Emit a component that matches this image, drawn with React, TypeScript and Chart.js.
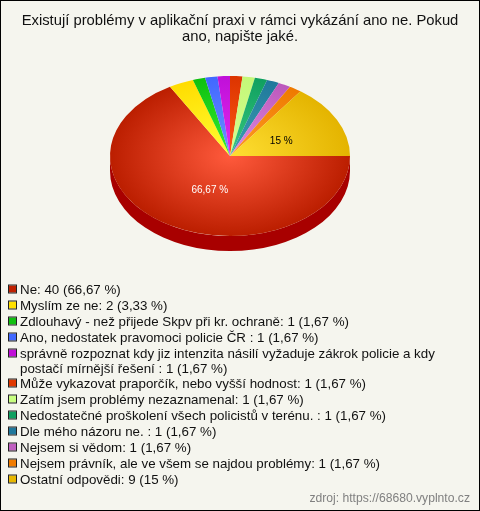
import React, { useEffect, useRef } from "react";
import { Chart, registerables } from "chart.js";

Chart.register(...registerables);

const titleLines = [
  "Existují problémy v aplikační praxi v rámci vykázání ano ne. Pokud",
  "ano, napište jaké.",
];
const categories = [
  "Ne",
  "Myslím ze ne",
  "Zdlouhavý - než přijede Skpv při kr. ochraně",
  "Ano, nedostatek pravomoci policie ČR ",
  "správně rozpoznat kdy jiz intenzita násilí vyžaduje zákrok policie a kdy postačí mírnější řešení ",
  "Může vykazovat praporčík, nebo vyšší hodnost",
  "Zatím jsem problémy nezaznamenal",
  "Nedostatečné proškolení všech policistů v terénu. ",
  "Dle mého názoru ne. ",
  "Nejsem si vědom",
  "Nejsem právník, ale ve všem se najdou problémy",
  "Ostatní odpovědi",
];
const counts = [40, 2, 1, 1, 1, 1, 1, 1, 1, 1, 1, 9];
const shares = ["66,67", "3,33", "1,67", "1,67", "1,67", "1,67", "1,67", "1,67", "1,67", "1,67", "1,67", "15"];
const innerColors = ["#ff5a3c", "#ffff33", "#33ee33", "#6f90ff", "#e02af0", "#ff5a14", "#d4ff90", "#38c880", "#3aa0b0", "#e08ce0", "#ff9c24", "#ffdf33"];
const outerColors = ["#bb1e00", "#ffdc00", "#0fc00f", "#4068ff", "#c010d8", "#dc3400", "#c4f878", "#10a060", "#20789c", "#bc58bc", "#ee7a00", "#e4b400"];
const boxColors = ["#c02000", "#ffe000", "#10c010", "#4068ff", "#c010d8", "#e03800", "#c8ff80", "#10a060", "#20789c", "#c060c0", "#f07c00", "#e8b800"];
const sideColors = ["#a80000", "#c0a000", "#008800", "#2040c0", "#8000a0", "#a02000", "#90c050", "#007040", "#105070", "#884088", "#b05000", "#b08800"];
const labelledValues = [40, 9];
const source = "zdroj: https://68680.vyplnto.cz";

const PIE_CX = 230;
const PIE_CY = 156;
const SQUASH = 2 / 3;
const DEPTH = 15;
const BG = "#f5f5ee";

const piePlugin = {
  id: "pie3d",
  beforeDraw(chart: any) {
    const { ctx, width, height } = chart;
    ctx.save();
    ctx.fillStyle = BG;
    ctx.fillRect(0, 0, width, height);
    ctx.strokeStyle = "#000";
    ctx.lineWidth = 1;
    ctx.strokeRect(0.5, 0.5, width - 1, height - 1);
    ctx.restore();
  },
  beforeDatasetsDraw(chart: any) {
    const { ctx } = chart;
    const arcs = chart.getDatasetMeta(0).data;
    ctx.save();
    arcs.forEach((arc: any, i: number) => {
      const a = Math.max(arc.startAngle, 0);
      const b = Math.min(arc.endAngle, Math.PI);
      if (b <= a) return;
      const rx = arc.outerRadius;
      const ry = rx * SQUASH;
      ctx.beginPath();
      ctx.ellipse(PIE_CX, PIE_CY + DEPTH, rx, ry, 0, a, b);
      ctx.ellipse(PIE_CX, PIE_CY, rx, ry, 0, b, a, true);
      ctx.closePath();
      ctx.fillStyle = sideColors[i];
      ctx.fill();
    });
    ctx.restore();
    const first = arcs[0];
    ctx.save();
    ctx.translate(PIE_CX, PIE_CY);
    ctx.scale(1, SQUASH);
    ctx.translate(-first.x, -first.y);
  },
  afterDatasetsDraw(chart: any) {
    const { ctx } = chart;
    ctx.restore();
    const arcs = chart.getDatasetMeta(0).data;
    ctx.save();
    ctx.font = "10px 'Liberation Sans'";
    ctx.textAlign = "center";
    ctx.textBaseline = "middle";
    arcs.forEach((arc: any, i: number) => {
      if (!labelledValues.includes(counts[i])) return;
      const mid = (arc.startAngle + arc.endAngle) / 2;
      const r = arc.outerRadius * 0.47;
      const nudge = i === 0 ? 8 : 1;
      ctx.fillStyle = i === 0 ? "#ffffff" : "#000000";
      ctx.fillText(
        `${shares[i]} %`,
        PIE_CX + Math.cos(mid) * r + nudge,
        PIE_CY + Math.sin(mid) * r * SQUASH + 2
      );
    });
    ctx.restore();
  },
  afterDraw(chart: any) {
    const { ctx, width, height } = chart;
    ctx.save();
    ctx.font = "13.33px 'Liberation Sans'";
    ctx.textBaseline = "middle";
    ctx.textAlign = "left";
    let y = 289;
    categories.forEach((name, i) => {
      const full = `${name}: ${counts[i]} (${shares[i]} %)`;
      const lines: string[] = [];
      let cur = "";
      full.split(" ").forEach((w) => {
        const next = cur ? `${cur} ${w}` : w;
        if (ctx.measureText(next).width > 440 && cur) {
          lines.push(cur);
          cur = w;
        } else cur = next;
      });
      lines.push(cur);
      ctx.fillStyle = boxColors[i];
      ctx.fillRect(9, y - 3.5, 7, 7);
      ctx.strokeStyle = "#222";
      ctx.lineWidth = 1;
      ctx.strokeRect(8.5, y - 4, 8, 8);
      ctx.fillStyle = "#111";
      lines.forEach((l, k) => ctx.fillText(l, 20, y + 1 + k * 15));
      y += 16 + (lines.length - 1) * 14;
    });
    ctx.font = "12.15px 'Liberation Sans'";
    ctx.textAlign = "right";
    ctx.fillStyle = "#808080";
    ctx.fillText(source, width - 10, height - 12);
    ctx.restore();
  },
};

export default function App() {
  const ref = useRef<HTMLCanvasElement>(null);
  useEffect(() => {
    document.body.style.margin = "0";
    const chart = new Chart(ref.current as HTMLCanvasElement, {
      type: "pie",
      data: {
        labels: categories,
        datasets: [
          {
            data: counts,
            borderWidth: 0,
            backgroundColor: (c: any) => {
              const area = c.chart.chartArea;
              const i = c.dataIndex ?? 0;
              if (!area) return outerColors[i];
              const x = (area.left + area.right) / 2;
              const y = (area.top + area.bottom) / 2;
              const g = c.chart.ctx.createRadialGradient(x, y, 0, x, y, 120);
              g.addColorStop(0, innerColors[i]);
              g.addColorStop(1, outerColors[i]);
              return g;
            },
          },
        ],
      },
      options: {
        responsive: false,
        animation: false,
        events: [],
        rotation: 90,
        layout: { padding: { top: 0, left: 0, right: 0, bottom: 219 } },
        plugins: {
          legend: { display: false },
          tooltip: { enabled: false },
          title: {
            display: true,
            text: titleLines,
            color: "#111",
            font: { family: "'Liberation Sans'", size: 14.8, weight: "normal", lineHeight: "16px" },
            padding: { top: 13, bottom: 7 },
          },
        },
      },
      plugins: [piePlugin],
    } as any);
    return () => chart.destroy();
  }, []);
  return <canvas ref={ref} width={480} height={511} style={{ display: "block" }} />;
}
